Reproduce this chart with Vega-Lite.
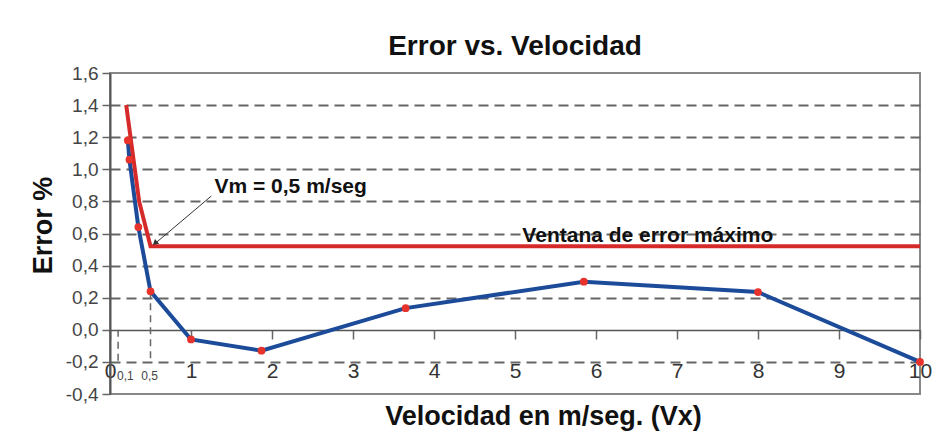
{
  "$schema": "https://vega.github.io/schema/vega-lite/v6.json",
  "width": 810,
  "height": 321,
  "autosize": {"type": "none"},
  "padding": {"left": 110, "top": 73, "right": 16, "bottom": 42},
  "background": "white",
  "title": {"text": "Error vs. Velocidad", "fontSize": 28, "font": "Liberation Sans", "fontWeight": "bold", "color": "#111", "anchor": "middle", "offset": 3},
  "config": {"view": {"stroke": "#888", "strokeWidth": 2}, "font": "Liberation Sans"},
  "datasets": {
    "curve": [
      {"x": 0.22, "y": 1.18}, {"x": 0.24, "y": 1.06}, {"x": 0.35, "y": 0.64}, {"x": 0.5, "y": 0.24},
      {"x": 1.0, "y": -0.06}, {"x": 1.87, "y": -0.13}, {"x": 3.65, "y": 0.135}, {"x": 5.85, "y": 0.3},
      {"x": 8.0, "y": 0.235}, {"x": 10, "y": -0.2}
    ],
    "limit": [{"x": 0.2, "y": 1.4}, {"x": 0.36, "y": 0.8}, {"x": 0.5, "y": 0.52}, {"x": 10, "y": 0.52}],
    "refs": [{"x": 0.1, "y": 0, "y2": -0.2}, {"x": 0.5, "y": 0.24, "y2": -0.2}],
    "small": [{"x": 0.19, "y": -0.29, "t": "0,1"}, {"x": 0.49, "y": -0.29, "t": "0,5"}],
    "vm": [{"x": 1.29, "y": 0.8875, "t": "Vm = 0,5 m/seg"}],
    "ventana": [{"x": 6.64, "y": 0.5875, "t": "Ventana de error máximo"}],
    "arrow": [{"x": 1.25, "y": 0.833}, {"x": 0.55, "y": 0.535}],
    "tip": [{"x": 0.555, "y": 0.54}]
  },
  "encoding": {
    "x": {"field": "x", "type": "quantitative", "scale": {"domain": [0, 10], "nice": false},
      "axis": {"values": [0, 1, 2, 3, 4, 5, 6, 7, 8, 9, 10], "format": "d", "labelOverlap": false, "offset": -64, "title": "Velocidad en m/seg. (Vx)",
        "titleFontSize": 27, "titleFontWeight": "bold", "titleColor": "#111", "titleX": 433, "titleY": 86, "titleBaseline": "middle",
        "labelFontSize": 21, "labelColor": "#333", "labelPadding": 21, "labelFlush": false,
        "tickSize": 9, "tickColor": "#666", "tickWidth": 1.5, "domainColor": "#555", "domainWidth": 1.5, "grid": false}},
    "y": {"field": "y", "type": "quantitative", "scale": {"domain": [-0.4, 1.6], "nice": false},
      "axis": {"values": [-0.4, -0.2, 0, 0.2, 0.4, 0.6, 0.8, 1.0, 1.2, 1.4, 1.6], "tickCount": 11, "labelOverlap": false,
        "labelExpr": "replace(replace(format(datum.value, '.1f'), '.', ','), '−', '-')",
        "title": "Error %", "titleFontSize": 27, "titleFontWeight": "bold", "titleColor": "#111",
        "titleX": -67, "titleY": 152, "titleBaseline": "middle",
        "labelFontSize": 19, "labelColor": "#444", "labelPadding": 4,
        "tickSize": 8, "tickColor": "#666", "tickWidth": 1.5, "domainColor": "#555", "domainWidth": 2,
        "grid": true, "gridDash": [10, 6], "gridColor": "#666", "gridWidth": 2,
        "gridOpacity": {"condition": {"test": "abs(datum.value) < 0.01 || datum.value > 1.5 || datum.value < -0.3", "value": 0}, "value": 1}}}
  },
  "layer": [
    {
      "data": {"name": "refs"},
      "mark": {"type": "rule", "strokeDash": [7, 5], "color": "#666", "strokeWidth": 1.5},
      "encoding": {"y2": {"field": "y2"}}
    },
    {
      "data": {"name": "curve"},
      "mark": {"type": "line", "color": "#1c4b99", "strokeWidth": 4}
    },
    {
      "data": {"name": "limit"},
      "mark": {"type": "line", "color": "#d62a2a", "strokeWidth": 4}
    },
    {
      "data": {"name": "curve"},
      "mark": {"type": "point", "filled": true, "color": "#e8332d", "size": 60, "opacity": 1}
    },
    {
      "data": {"name": "small"},
      "mark": {"type": "text", "fontSize": 12, "color": "#444"},
      "encoding": {"text": {"field": "t"}}
    },
    {
      "data": {"name": "arrow"},
      "mark": {"type": "line", "color": "#333", "strokeWidth": 1}
    },
    {
      "data": {"name": "tip"},
      "mark": {"type": "point", "shape": "triangle-up", "filled": true, "color": "#333", "size": 40, "angle": 229, "opacity": 1}
    },
    {
      "data": {"name": "vm"},
      "mark": {"type": "text", "fontSize": 21, "fontWeight": "bold", "color": "#111", "align": "left"},
      "encoding": {"text": {"field": "t"}}
    },
    {
      "data": {"name": "ventana"},
      "mark": {"type": "text", "fontSize": 21, "fontWeight": "bold", "color": "#111"},
      "encoding": {"text": {"field": "t"}}
    }
  ]
}
